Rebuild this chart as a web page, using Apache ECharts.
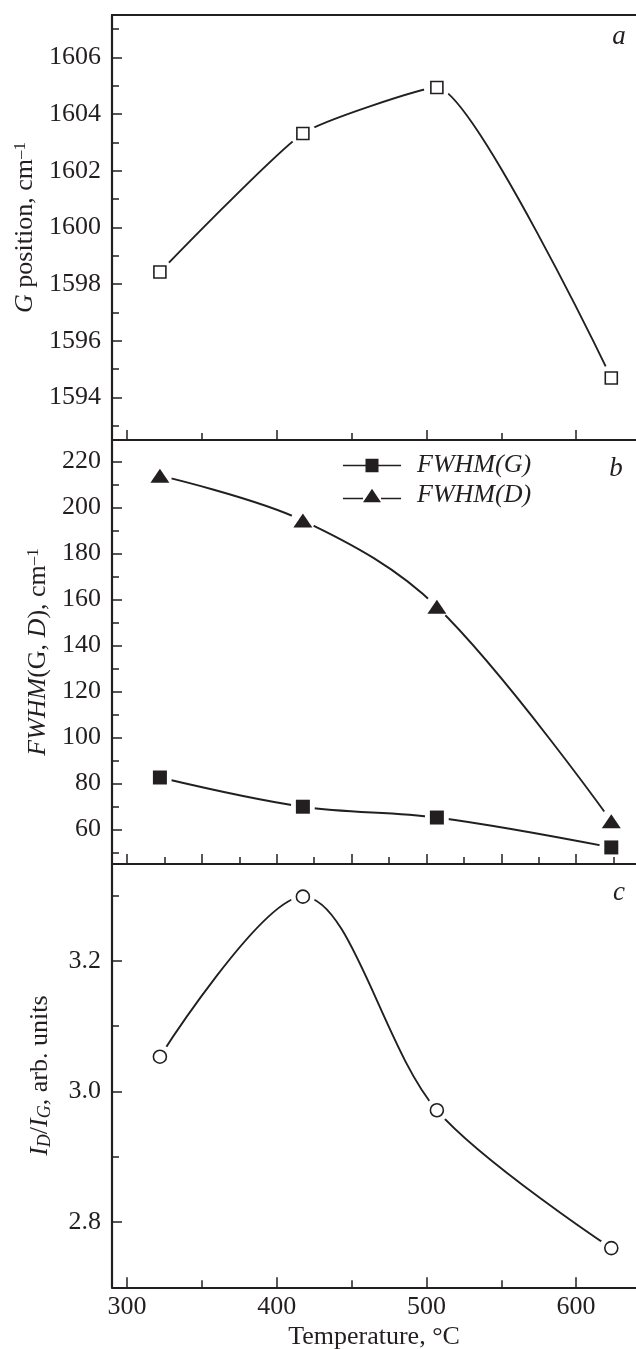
<!DOCTYPE html>
<html><head><meta charset="utf-8">
<script src="https://cdn.jsdelivr.net/npm/echarts@6/dist/echarts.min.js"></script>
<style>html,body{margin:0;padding:0;background:#fff}#c{width:636px;height:1349px}</style>
</head><body><div id="c"></div>
<script>
// ---- data ----
const temperatures = [322, 417.5, 507, 623.5];
const gPosition = [1598.43, 1603.32, 1604.94, 1594.69];
const fwhmG = [82.6, 69.9, 65.2, 52.2];
const fwhmD = [213.8, 194.3, 156.8, 63.6];
const intensityRatio = [3.053, 3.298, 2.971, 2.760];

// ---- ticks / labels ----
const xMajorTicks = [300, 400, 500, 600];
const xMinorTicks = [350, 450, 550];
const xMajorTicksB = [300, 350, 400, 450, 500, 550, 600];
const xMinorTicksB = [325, 375, 425, 475, 525, 575, 625];
const xLabels = [300, 400, 500, 600];
const yTicksA = [1594, 1596, 1598, 1600, 1602, 1604, 1606];
const yMinorA = [1593, 1595, 1597, 1599, 1601, 1603, 1605, 1607];
const yTicksB = [60, 80, 100, 120, 140, 160, 180, 200, 220];
const yMinorB = [50, 70, 90, 110, 130, 150, 170, 190, 210];
const yTicksC = [2.8, 3.0, 3.2];
const yMinorC = [2.9, 3.1, 3.3];

const FONT = "'Liberation Serif', 'DejaVu Serif', serif";
const INK = '#231f20';
const pairs = arr => temperatures.map((t, i) => [t, arr[i]]);

const rects = [
  { left: 112, right: 0, top: 15, height: 425 },
  { left: 112, right: 0, top: 440, height: 424 },
  { left: 112, right: 0, top: 864, height: 423.3 }
];
const grids = rects.concat(rects).map(r => Object.assign({ containLabel: false, outerBoundsMode: 'none' }, r));

const lineStyleAxis = { color: INK, width: 2.2 };
const labelStyle = { color: INK, fontFamily: FONT, fontSize: 26 };
const richName = {
  i: { fontStyle: 'italic', fontFamily: FONT, fontSize: 26, color: INK, lineHeight: 27 },
  n: { fontFamily: FONT, fontSize: 26, color: INK, lineHeight: 27 },
  sup: { fontFamily: FONT, fontSize: 17, color: INK, lineHeight: 13, verticalAlign: 'top' },
  sub: { fontStyle: 'italic', fontFamily: FONT, fontSize: 18, color: INK, lineHeight: 3, verticalAlign: 'bottom' }
};

function xAx(gridIndex, opts) {
  return Object.assign({
    type: 'value', gridIndex, min: 290, max: 640, zlevel: 1, z: 10,
    splitLine: { show: false },
    axisLine: { show: false, lineStyle: lineStyleAxis },
    axisTick: { show: false },
    axisLabel: { show: false }
  }, opts);
}
function yAx(gridIndex, min, max, opts) {
  return Object.assign({
    type: 'value', gridIndex, min, max, zlevel: 1, z: 10,
    splitLine: { show: false },
    axisLine: { show: false, lineStyle: lineStyleAxis },
    axisTick: { show: false },
    axisLabel: { show: false }
  }, opts);
}
const tickMajor = vals => ({ show: true, inside: true, length: 10, customValues: vals, lineStyle: { color: INK, width: 1.5 } });
const tickMinor = vals => ({ show: true, inside: true, length: 7, customValues: vals, lineStyle: { color: INK, width: 1.5 } });
const plain = v => String(v);

const xAxes = [
  xAx(0, { position: 'bottom', axisLine: { show: true, onZero: false, lineStyle: lineStyleAxis }, axisTick: tickMajor(xMajorTicks) }),
  xAx(0, { position: 'top', axisLine: { show: true, onZero: false, lineStyle: lineStyleAxis } }),
  xAx(1, { position: 'bottom', axisLine: { show: true, onZero: false, lineStyle: lineStyleAxis }, axisTick: tickMajor(xMajorTicksB) }),
  xAx(2, {
    position: 'bottom', axisLine: { show: true, onZero: false, lineStyle: lineStyleAxis }, axisTick: tickMajor(xMajorTicks),
    axisLabel: Object.assign({ show: true, margin: 7, customValues: xLabels, formatter: plain }, labelStyle),
    name: 'Temperature, °C', nameLocation: 'middle', nameGap: 37,
    nameTextStyle: { color: INK, fontFamily: FONT, fontSize: 26 }
  }),
  xAx(3, { position: 'bottom', axisTick: tickMinor(xMinorTicks) }),
  xAx(4, { position: 'bottom', axisTick: tickMinor(xMinorTicksB) }),
  xAx(5, { position: 'bottom', axisTick: tickMinor(xMinorTicks) })
];

const yAxes = [
  yAx(0, 1592.5, 1607.5, {
    axisLine: { show: true, onZero: false, lineStyle: lineStyleAxis }, axisTick: tickMajor(yTicksA),
    axisLabel: Object.assign({ show: true, margin: 11, customValues: yTicksA, formatter: plain }, labelStyle),
    name: '{i|G}{n| position, cm}{sup|–1}', nameLocation: 'middle', nameGap: 58,
    nameTextStyle: { rich: richName }
  }),
  yAx(1, 45, 229.3, {
    axisLine: { show: true, onZero: false, lineStyle: lineStyleAxis }, axisTick: tickMajor(yTicksB),
    axisLabel: Object.assign({ show: true, margin: 11, customValues: yTicksB, formatter: plain }, labelStyle),
    name: '{i|FWHM}{n|(G, }{i|D}{n|), cm}{sup|–1}', nameLocation: 'middle', nameGap: 58,
    nameTextStyle: { rich: richName }
  }),
  yAx(2, 2.70, 3.348, {
    axisLine: { show: true, onZero: false, lineStyle: lineStyleAxis }, axisTick: tickMajor(yTicksC),
    axisLabel: Object.assign({ show: true, margin: 11, customValues: yTicksC, formatter: v => Number(v).toFixed(1) }, labelStyle),
    name: '{i|I}{sub|D}{n|/}{i|I}{sub|G}{n|, arb. units}', nameLocation: 'middle', nameGap: 58,
    nameTextStyle: { rich: richName }
  }),
  yAx(3, 1592.5, 1607.5, { axisTick: tickMinor(yMinorA) }),
  yAx(4, 45, 229.3, { axisTick: tickMinor(yMinorB) }),
  yAx(5, 2.70, 3.348, { axisTick: tickMinor(yMinorC) })
];

function curve(xi, yi, data, smooth) {
  return { type: 'line', xAxisIndex: xi, yAxisIndex: yi, data, smooth, symbol: 'none', zlevel: 0, z: 2, silent: true,
    lineStyle: { color: INK, width: 1.9 } };
}
function halo(xi, yi, data, size) {
  return { type: 'scatter', xAxisIndex: xi, yAxisIndex: yi, data, symbol: 'circle', symbolSize: size, zlevel: 1, z: 1, silent: true,
    itemStyle: { color: '#ffffff', opacity: 1 } };
}
function marker(xi, yi, data, symbol, size, filled, name) {
  return { type: 'scatter', name, xAxisIndex: xi, yAxisIndex: yi, data, symbol, symbolSize: size, zlevel: 1, z: 2, silent: true,
    itemStyle: filled ? { color: INK, opacity: 1 } : { color: '#fff', borderColor: INK, borderWidth: 1.6, opacity: 1 } };
}

const series = [
  curve(0, 0, pairs(gPosition), 0.16),
  halo(0, 0, pairs(gPosition), 26),
  marker(0, 0, pairs(gPosition), 'rect', 12, false),

  curve(2, 1, pairs(fwhmG), 0.35),
  curve(2, 1, pairs(fwhmD), 0.35),
  halo(2, 1, pairs(fwhmG), 24),
  halo(2, 1, pairs(fwhmD), 24),
  marker(2, 1, pairs(fwhmG), 'rect', 14, true, 'FWHM(G)'),
  marker(2, 1, pairs(fwhmD), 'triangle', [19, 14], true, 'FWHM(D)'),

  curve(3, 2, pairs(intensityRatio), 0.32),
  halo(3, 2, pairs(intensityRatio), 24),
  marker(3, 2, pairs(intensityRatio), 'circle', 13, false)
];

const letter = (t, x, y) => ({ type: 'text', x, y, silent: true,
  style: { text: t, fill: INK, font: 'italic 27px ' + FONT, textAlign: 'center', textVerticalAlign: 'middle' } });

const option = {
  animation: false,
  backgroundColor: '#fff',
  grid: grids,
  xAxis: xAxes,
  yAxis: yAxes,
  series,
  legend: {
    orient: 'vertical', left: 343, top: 450.5, padding: 0, itemGap: 0,
    itemWidth: 58, itemHeight: 13.5, selectedMode: false,
    textStyle: { color: INK, fontFamily: FONT, fontSize: 26, fontStyle: 'italic', lineHeight: 30, padding: [0, 0, 0, 11] },
    data: [
      { name: 'FWHM(G)', icon: 'path://M0,6H22.5V7.5H0Z M22.5,0H35.5V13.5H22.5Z M35.5,6H58V7.5H35.5Z' },
      { name: 'FWHM(D)', icon: 'path://M0,9H20V10.5H0Z M20,13.5L29,0L38,13.5Z M38,9H58V10.5H38Z' }
    ]
  },
  graphic: [letter('a', 619, 37), letter('b', 616, 469), letter('c', 619, 893)]
};

const chart = echarts.init(document.getElementById('c'), null, { renderer: 'canvas' });
chart.setOption(option);
</script></body></html>
